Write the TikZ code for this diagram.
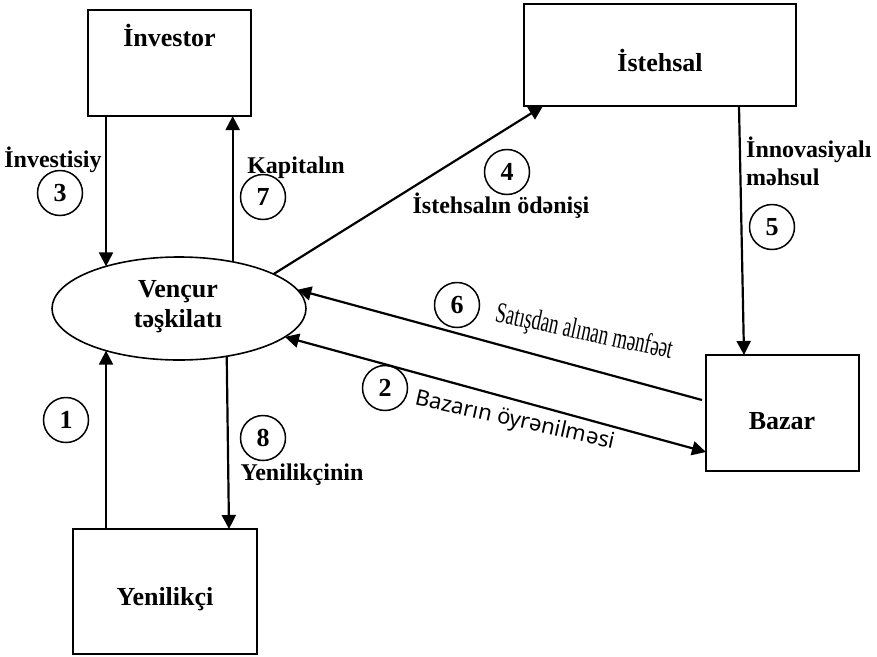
\documentclass[tikz,border=0pt]{standalone}
\usepackage{fontspec}
\setmainfont{Liberation Serif}
\newfontfamily\notosans{Noto Sans}
\usetikzlibrary{shapes.geometric,arrows.meta}
\begin{document}
\begin{tikzpicture}[x=1pt,y=-1pt,
  box/.style={draw, line width=2pt, rectangle, inner sep=0pt, outer sep=0pt},
  blbl/.style={font=\fontsize{26}{30}\selectfont\bfseries, anchor=base, inner sep=0pt},
  elbl/.style={font=\fontsize{24}{28}\selectfont\bfseries, anchor=base, inner sep=0pt},
  num/.style={draw, circle, line width=1.5pt, minimum size=45pt, inner sep=0pt, font=\fontsize{26}{30}\selectfont\bfseries},
  arr/.style={line width=2.2pt, -{Triangle[length=14pt,width=14pt]}},
  darr/.style={line width=2.2pt, {Triangle[length=14pt,width=14pt]}-{Triangle[length=14pt,width=14pt]}}]
\useasboundingbox (0,0) rectangle (877,656);

% boxes
\node[box, minimum width=163pt, minimum height=106pt] (inv) at (169.5,63) {};
\node[blbl] (invt) at (169.5,46) {İnvestor};
\node[box, minimum width=272pt, minimum height=102pt] (ist) at (660,55) {};
\node[blbl] (istt) at (660,71) {İstehsal};
\node[box, minimum width=184pt, minimum height=125pt] (yen) at (165,591.5) {};
\node[blbl] (yent) at (165,605) {Yenilikçi};
\node[box, minimum width=153pt, minimum height=116pt] (baz) at (782.5,413) {};
\node[blbl] (bazt) at (782,429) {Bazar};
\node[draw, ellipse, line width=1.6pt, minimum width=254pt, minimum height=103pt, inner sep=0pt, outer sep=0pt] (v) at (179,308.5) {};
\node[blbl] (vt1) at (178,297) {Vençur};
\node[blbl] (vt2) at (178,327) {təşkilatı};

% connectors
\draw[arr] (v.150 |- inv.south) -- (v.150);
\draw[arr] (v.41) -- (v.41 |- inv.south);
\draw[arr] (v.210 |- yen.north) -- (v.210);
\draw[arr] (v.-45) -- ([xshift=156pt]yen.north west);
\draw[arr] (v.20) -- ([xshift=19pt]ist.south west);
\draw[arr] ([xshift=215pt]ist.south west) -- ([xshift=38pt]baz.north west);
\draw[arr] ([xshift=-4pt,yshift=-45pt]baz.north west) -- (v.9);
\draw[darr] (v.-15) -- ([yshift=-97pt]baz.north west);

% labels
\node[elbl] (l3) at (53,167) {İnvestisiy};
\node[num] (n3) at (60,193) {3};
\node[elbl] (l7) at (296,173) {Kapitalın};
\node[num] (n7) at (263,197) {7};
\node[num] (n4) at (507,172) {4};
\node[elbl] (l4) at (501,213) {İstehsalın ödənişi};
\node[elbl, anchor=base west] (l5a) at (746,157) {İnnovasiyalı};
\node[elbl, anchor=base west] (l5b) at (746,185) {məhsul};
\node[num] (n5) at (772,227) {5};
\node[num] (n6) at (457,305) {6};
\node[font=\fontsize{29}{33}\selectfont, rotate=-12, inner sep=0pt] (l6) at (584,333) {\scalebox{0.65}[1]{Satışdan alınan mənfəət}};
\node[num] (n2) at (385,388) {2};
\node[font=\notosans\fontsize{22}{26}\selectfont, rotate=-12.5, inner sep=0pt] (l2) at (515,421) {Bazarın öyrənilməsi};
\node[num] (n1) at (66,420) {1};
\node[num] (n8) at (263,438) {8};
\node[elbl] (l8) at (302,480) {Yenilikçinin};
\end{tikzpicture}
\end{document}
